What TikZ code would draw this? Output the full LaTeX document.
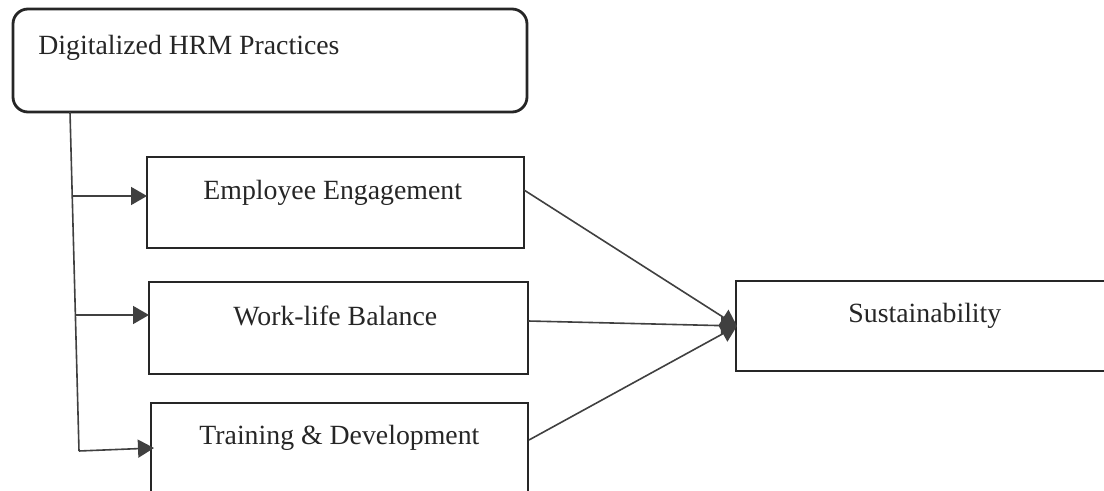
\documentclass[tikz,border=0pt]{standalone}
\usepackage{fontspec}
\setmainfont{Liberation Serif}
\usetikzlibrary{arrows.meta}
\begin{document}
\begin{tikzpicture}[x=0.5pt,y=-0.5pt,
  box/.style={draw=black!85,line width=1.4pt,inner sep=0pt,outer sep=0pt},
  lbl/.style={anchor=base west,inner sep=0pt,font=\fontsize{13.9}{16}\selectfont,text=black!85},
  conn/.style={draw=black!75,line width=0.8pt},
  arr/.style={conn,-{Triangle[length=8pt,width=9pt]}}]
\clip (0,0) rectangle (1104,491);
\fill[white] (0,0) rectangle (1104,491);
% boxes
\node[box,rounded corners=7.5pt,minimum width=257pt,minimum height=51.5pt] (hrm) at (270,60.5) {};
\node[box,minimum width=188.5pt,minimum height=45.5pt] (ee) at (335.5,202.5) {};
\node[box,minimum width=189.5pt,minimum height=46pt] (wlb) at (338.5,328) {};
\node[box,minimum width=188.5pt,minimum height=46pt] (td) at (339.5,449) {};
\node[box,minimum width=189.5pt,minimum height=45pt] (sus) at (925.5,326) {};
% labels
\node[lbl] (thrm) at (38,55) {Digitalized HRM Practices};
\node[lbl] (tee) at (203,200) {Employee Engagement};
\node[lbl] (twlb) at (233,326) {Work-life Balance};
\node[lbl] (ttd) at (199,445) {Training \& Development};
\node[lbl] (tsus) at (848,323) {Sustainability};
% left trunk
\coordinate (trunkTop) at (70,112);
\coordinate (trunkBot) at (79,451);
\coordinate (bEE) at (72,196);
\coordinate (bWLB) at (75,315);
\draw[conn] (trunkTop) -- (trunkBot);
\draw[arr] (bEE) -- (ee.west |- bEE);
\draw[arr] (bWLB) -- (wlb.west |- bWLB);
\draw[arr] (trunkBot) -- (154,448);
% converging
\coordinate (tip) at (737,326);
\draw[arr] (524,190) -- (tip);
\draw[arr] (528,321) -- (tip);
\draw[arr] (529,440) -- (tip);
\end{tikzpicture}
\end{document}
